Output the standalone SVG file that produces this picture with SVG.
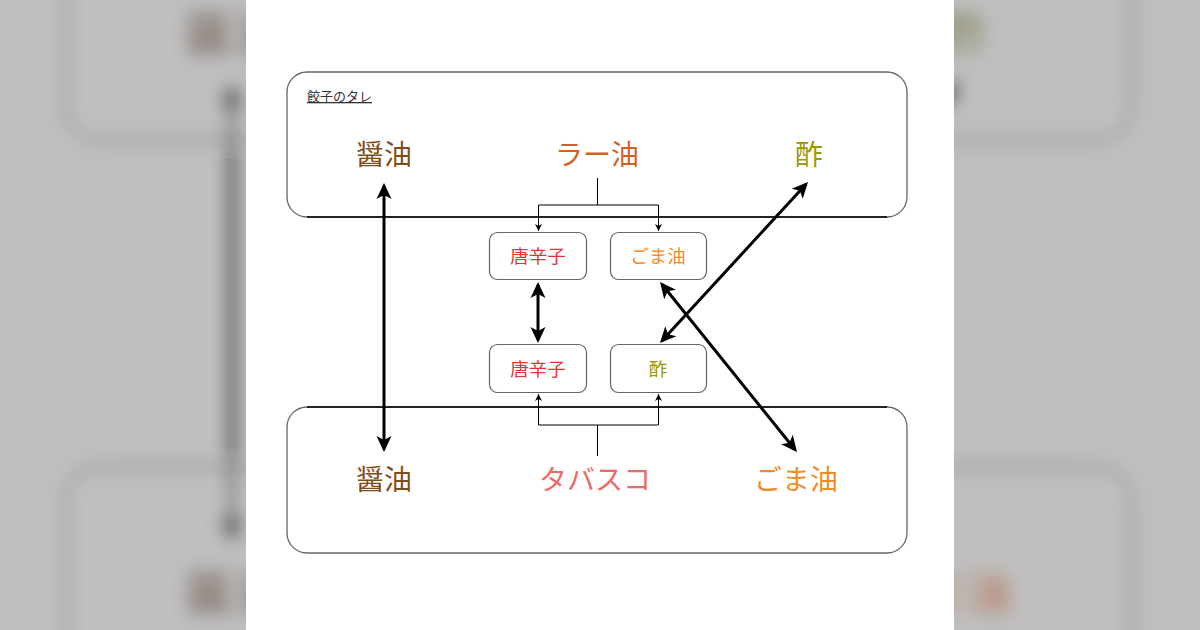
<svg xmlns="http://www.w3.org/2000/svg" xmlns:xlink="http://www.w3.org/1999/xlink" width="1200" height="630" viewBox="0 0 1200 630">
  <style>
    .big { fill: #fff; stroke: #666; stroke-width: 1.3; }
    .box { fill: #fff; stroke: #666; stroke-width: 1.2; }
    .edge { stroke: #000; stroke-width: 1.3; }
    .thin { fill: none; stroke: #000; stroke-width: 1; }
    .thick { fill: none; stroke: #000; stroke-width: 3; marker-start: url(#ah); marker-end: url(#ah); }
    text { font-family: "Noto Sans CJK JP", "Noto Sans", sans-serif; text-anchor: middle; }
    .lbl { font-size: 28px; }
    .sm { font-size: 18.5px; }
    .title { font-size: 13px; fill: #333; text-anchor: start; text-decoration: underline; }
  </style>
  <defs>
    <marker id="ah" viewBox="-20 -10 30 20" refX="0" refY="0" markerWidth="30" markerHeight="20" markerUnits="userSpaceOnUse" orient="auto-start-reverse">
      <path d="M3,0 L-13,-7.5 L-9,0 L-13,7.5 Z" fill="#000"/>
    </marker>
    <marker id="sh" viewBox="-10 -5 12 10" refX="0" refY="0" markerWidth="12" markerHeight="10" markerUnits="userSpaceOnUse" orient="auto">
      <path d="M0,0 L-7,-3.5 L-5,0 L-7,3.5 Z" fill="#000"/>
    </marker>
    <filter id="blur" filterUnits="userSpaceOnUse" x="0" y="0" width="1200" height="630">
      <feGaussianBlur stdDeviation="8.5"/>
    </filter>
  </defs>

  <!-- blurred backdrop -->
  <rect x="0" y="0" width="1200" height="630" fill="#fff"/>
  <g filter="url(#blur)">
    <use xlink:href="#diagram" href="#diagram" transform="translate(-428.6,-233.2) scale(1.72)"/>
  </g>
  <rect x="0" y="0" width="1200" height="630" fill="#000" fill-opacity="0.25"/>
  <rect x="246" y="0" width="708" height="630" fill="#fff"/>

  <g id="diagram">
    <g id="top-group">
      <rect class="big" x="287" y="72" width="620" height="145" rx="20" ry="20"/>
      <line class="edge" x1="307" y1="217" x2="887" y2="217"/>
      <text class="title" x="307" y="101">餃子のタレ</text>
    </g>
    <g id="bottom-group">
      <rect class="big" x="287" y="407" width="620" height="146" rx="20" ry="20"/>
      <line class="edge" x1="307" y1="407" x2="887" y2="407"/>
    </g>

    <g id="shoyu-top"><text class="lbl" x="384" y="165" fill="#7f4c1a">醤油</text></g>
    <g id="rayu"><text class="lbl" x="597" y="165" fill="#d2601f">ラー油</text></g>
    <g id="su-top"><text class="lbl" x="809" y="165" fill="#999900">酢</text></g>

    <g id="shoyu-bottom"><text class="lbl" x="384" y="490" fill="#7f4c1a">醤油</text></g>
    <g id="tabasco"><text class="lbl" x="595" y="490" fill="#ea6b66">タバスコ</text></g>
    <g id="goma-bottom"><text class="lbl" x="796" y="490" fill="#f28c28">ごま油</text></g>

    <g id="togarashi-1">
      <rect class="box" x="489.5" y="232.5" width="97" height="47" rx="8" ry="8"/>
      <text class="sm" x="538" y="263" fill="#e53333">唐辛子</text>
    </g>
    <g id="goma-small">
      <rect class="box" x="610.5" y="232.5" width="96" height="47" rx="8" ry="8"/>
      <text class="sm" x="658" y="263" fill="#f28c28">ごま油</text>
    </g>
    <g id="togarashi-2">
      <rect class="box" x="489.5" y="344.5" width="97" height="48" rx="8" ry="8"/>
      <text class="sm" x="538" y="376" fill="#e53333">唐辛子</text>
    </g>
    <g id="su-small">
      <rect class="box" x="610.5" y="344.5" width="96" height="48" rx="8" ry="8"/>
      <text class="sm" x="658" y="376" fill="#999900">酢</text>
    </g>

    <g id="connectors">
      <path class="thin" d="M597.5,178 V205 H538.5 V231" marker-end="url(#sh)"/>
      <path class="thin" d="M597.5,205 H658.5 V231" marker-end="url(#sh)"/>
      <path class="thin" d="M597.5,456 V425 H538.5 V394" marker-end="url(#sh)"/>
      <path class="thin" d="M597.5,425 H658.5 V394" marker-end="url(#sh)"/>

      <line class="thick" x1="384" y1="186" x2="384" y2="449"/>
      <line class="thick" x1="538" y1="285" x2="538" y2="340"/>
      <line class="thick" x1="806" y1="184.2" x2="662" y2="340.8"/>
      <line class="thick" x1="661.9" y1="284.3" x2="795.1" y2="449.7"/>
    </g>
  </g>
</svg>
